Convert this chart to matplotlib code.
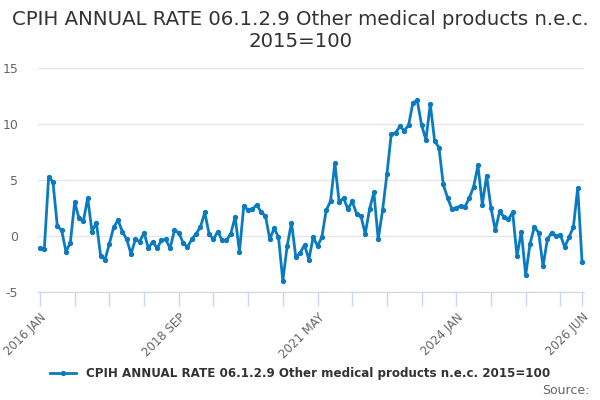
import matplotlib.pyplot as plt

# monthly annual rate, 2016 JAN .. 2026 JUN
rate = [-1.1, -1.2, 5.3, 4.8, 0.9, 0.5, -1.4, -0.6, 3.0, 1.6, 1.3, 3.4,
        0.4, 1.2, -1.8, -2.1, -0.7, 0.8, 1.4, 0.4, -0.3, -1.6, -0.3, -0.5,
        0.3, -1.1, -0.5, -1.1, -0.4, -0.3, -1.1, 0.5, 0.3, -0.6, -1.0, -0.3,
        0.2, 0.8, 2.1, 0.2, -0.3, 0.4, -0.4, -0.4, 0.2, 1.7, -1.4, 2.7,
        2.3, 2.4, 2.8, 2.1, 1.8, -0.3, 0.7, -0.1, -4.0, -0.9, 1.2, -1.9,
        -1.5, -0.8, -2.1, -0.1, -0.9, -0.1, 2.3, 3.1, 6.5, 3.0, 3.4, 2.4,
        3.1, 2.0, 1.8, 0.2, 2.4, 3.9, -0.3, 2.3, 5.5, 9.1, 9.2, 9.8,
        9.4, 9.9, 11.9, 12.1, 9.9, 8.6, 11.8, 8.5, 7.9, 4.6, 3.4, 2.4,
        2.5, 2.7, 2.6, 3.4, 4.4, 6.3, 2.8, 5.4, 2.5, 0.5, 2.2, 1.7,
        1.5, 2.1, -1.8, 0.4, -3.5, -0.7, 0.8, 0.3, -2.7, -0.3, 0.3, 0.0,
        0.1, -1.0, -0.1, 0.8, 4.3, -2.3]

tick_pos = [0, 8, 16, 24, 32, 40, 48, 56, 64, 72, 80, 88, 96, 104, 112, 120, 125]
label_pos = {0: "2016 JAN", 32: "2018 SEP", 64: "2021 MAY", 96: "2024 JAN", 125: "2026 JUN"}
y_ticks = [-5, 0, 5, 10, 15]

line_col = "#0b7bc1"
axis_col = "#ccd6eb"
text_col = "#666666"

fig = plt.figure(figsize=(6, 4), dpi=100)
ax = fig.add_axes([0.063, 0.27, 0.9107, 0.56])

x = list(range(len(rate)))
ax.plot(x, rate, color=line_col, lw=2, marker="o", ms=2.8,
        label="CPIH ANNUAL RATE 06.1.2.9 Other medical products n.e.c. 2015=100")

ax.set_xlim(-0.5, 125.5)
ax.set_ylim(-5, 15)
ax.set_yticks(y_ticks)
ax.set_yticklabels([str(v) for v in y_ticks], color=text_col, fontsize=9)
ax.grid(axis="y", color="#e6e6e6", lw=1)
ax.set_axisbelow(True)

ax.set_xticks(tick_pos)
ax.set_xticklabels([label_pos.get(p, "") for p in tick_pos], rotation=45,
                   ha="right", rotation_mode="anchor", color=text_col, fontsize=8.5)
ax.tick_params(axis="x", length=10, color=axis_col, width=1)
ax.tick_params(axis="y", length=0, pad=14)

for s in ["top", "right", "left"]:
    ax.spines[s].set_visible(False)
ax.spines["bottom"].set_color(axis_col)

fig.suptitle("CPIH ANNUAL RATE 06.1.2.9 Other medical products n.e.c.\n2015=100",
             y=0.975, fontsize=14.2, color="#333333")

fig.legend(loc="center", bbox_to_anchor=(0.5, 0.067), frameon=False,
           prop={"weight": "bold", "size": 8.6}, handlelength=2.2, labelcolor="#333333")
fig.text(0.983, 0.025, "Source:", ha="right", va="center", fontsize=9, color=text_col)

fig.savefig("out.png")
